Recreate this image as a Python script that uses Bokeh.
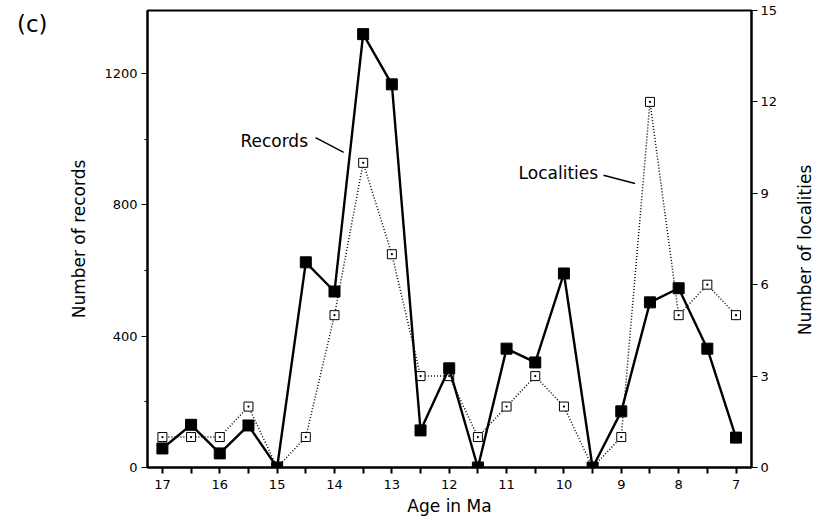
from bokeh.plotting import figure
from bokeh.models import Range1d, LinearAxis, FixedTicker, Label, Div
from bokeh.layouts import column
from bokeh.embed import file_html
from bokeh.resources import INLINE

ages = [17, 16.5, 16, 15.5, 15, 14.5, 14, 13.5, 13, 12.5, 12, 11.5, 11, 10.5, 10, 9.5, 9, 8.5, 8, 7.5, 7]
records = [58, 130, 43, 128, 0, 625, 536, 1320, 1167, 113, 302, 0, 362, 320, 591, 0, 171, 503, 546, 362, 91]
localities = [1, 1, 1, 2, 0, 1, 5, 10, 7, 3, 3, 1, 2, 3, 2, 0, 1, 12, 5, 6, 5]

left_ticks = [0, 400, 800, 1200]
left_minor = [200, 600, 1000]
right_ticks = [0, 3, 6, 9, 12, 15]
x_ticks = [17, 16.5, 16, 15.5, 15, 14.5, 14, 13.5, 13, 12.5, 12, 11.5, 11, 10.5, 10, 9.5, 9, 8.5, 8, 7.5, 7]

FONT = "DejaVu Sans"

p = figure(width=823, height=527, output_backend="svg", toolbar_location=None,
           x_range=Range1d(17.26, 6.73), y_range=Range1d(0, 1392),
           min_border_left=147, min_border_right=72, min_border_top=10, min_border_bottom=60)
p.extra_y_ranges = {"loc": Range1d(0, 15)}
p.xgrid.visible = False
p.ygrid.visible = False
p.outline_line_color = "black"
p.outline_line_width = 2
p.background_fill_color = "white"
p.border_fill_color = "white"


def style_axis(ax, label, standoff):
    ax.axis_label = label
    ax.axis_label_text_font = FONT
    ax.axis_label_text_font_size = "17px"
    ax.axis_label_text_font_style = "normal"
    ax.axis_label_text_color = "black"
    ax.axis_label_standoff = standoff
    ax.major_label_text_font = FONT
    ax.major_label_text_font_size = "13px"
    ax.major_label_text_color = "black"
    ax.axis_line_width = 2
    ax.axis_line_color = "black"
    ax.major_tick_line_color = "black"
    ax.major_tick_out = 6
    ax.major_tick_in = 0


# x axis
xa = p.xaxis[0]
style_axis(xa, "Age in Ma", 4)
xa.ticker = FixedTicker(ticks=x_ticks)
xa.major_label_overrides = {t: ("" if t != int(t) else str(int(t))) for t in x_ticks}
xa.minor_tick_line_color = None
xa.major_tick_line_width = 2
xa.major_label_standoff = 6

# left axis
ya = p.yaxis[0]
style_axis(ya, "Number of records", 12)
ya.ticker = FixedTicker(ticks=left_ticks, minor_ticks=left_minor)
ya.minor_tick_out = 3
ya.minor_tick_in = 0
ya.major_label_standoff = 4

# right axis (title added below as text reading bottom-to-top)
ra = LinearAxis(y_range_name="loc", ticker=FixedTicker(ticks=right_ticks))
style_axis(ra, None, 10)
ra.minor_tick_line_color = None
ra.major_label_standoff = 3
p.add_layout(ra, "right")

# localities (dotted, open squares)
p.line(ages, localities, y_range_name="loc", line_color="black", line_width=1.5, line_dash="1 2")
p.scatter(ages, localities, y_range_name="loc", marker="square_dot", size=9,
          fill_color="white", line_color="black", line_width=1)

# records (solid, filled squares)
p.line(ages, records, line_color="black", line_width=2.4)
p.scatter(ages, records, marker="square", size=11, fill_color="black", line_color="black")

# annotations
p.add_layout(Label(x=15.64, y=995, text="Records", text_font=FONT, text_font_size="17px",
                   text_baseline="middle", text_color="black"))
p.line([14.33, 13.84], [1005, 960], line_color="black", line_width=1.5)
p.add_layout(Label(x=10.79, y=896, text="Localities", text_font=FONT, text_font_size="17px",
                   text_baseline="middle", text_color="black"))
p.line([9.31, 8.76], [890, 865], line_color="black", line_width=1.5)

panel_tag = Div(text="(c)", styles={"position": "absolute", "left": "12px", "top": "3px",
                                    "font-family": FONT, "font-size": "23px", "color": "black",
                                    "z-index": "10"})
right_title = Div(text="Number of localities",
                  styles={"position": "absolute", "left": "800px", "top": "245px",
                          "transform": "translate(-50%, -50%) rotate(-90deg)",
                          "white-space": "nowrap", "font-family": FONT, "font-size": "17px",
                          "color": "black", "z-index": "10"})

open("out.html", "w").write(file_html(column(p, panel_tag, right_title, spacing=0), INLINE))
